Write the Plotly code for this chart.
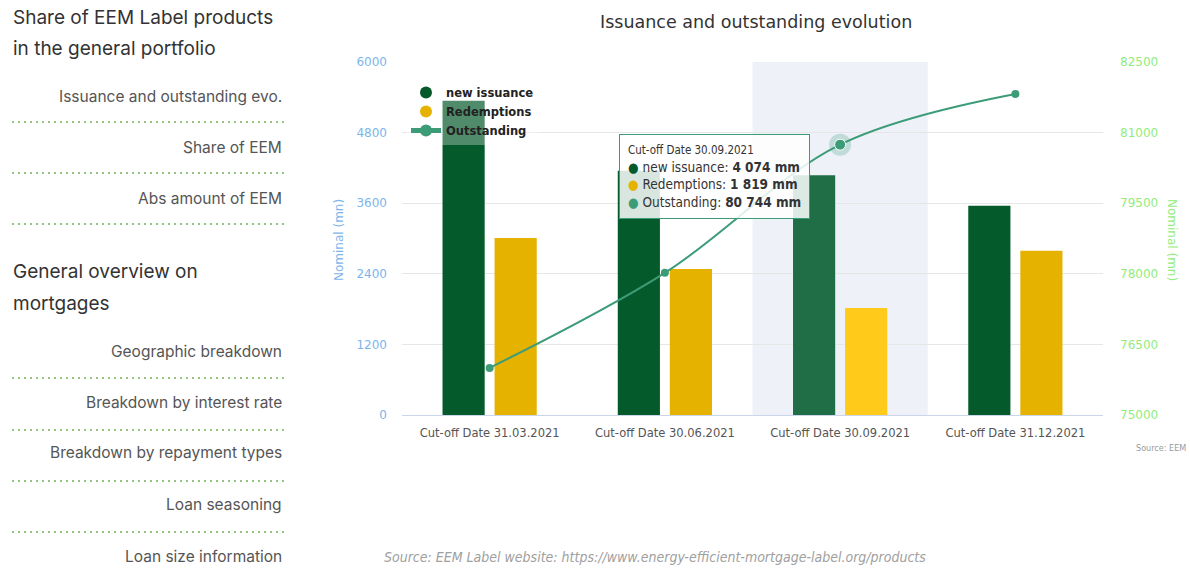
import plotly.graph_objects as go

# ---- data ----
categories = ["Cut-off Date 31.03.2021", "Cut-off Date 30.06.2021",
              "Cut-off Date 30.09.2021", "Cut-off Date 31.12.2021"]
new_issuance = [5340, 4150, 4074, 3555]
redemptions = [3010, 2480, 1819, 2790]
outstanding = [76000, 78020, 80744, 81820]
hover_index = 2

left_ticks = [0, 1200, 2400, 3600, 4800, 6000]
right_ticks = [75000, 76500, 78000, 79500, 81000, 82500]

menu_items_1 = ["Issuance and outstanding evo.", "Share of EEM", "Abs amount of EEM"]
menu_items_2 = ["Geographic breakdown", "Breakdown by interest rate",
                "Breakdown by repayment types", "Loan seasoning", "Loan size information"]

# ---- styling ----
GREEN = "#055a2b"
GREEN_HI = "#1f6e46"
YELLOW = "#e5b200"
YELLOW_HI = "#ffca1a"
LINE = "#3d9c78"
BLUE_LBL = "#7cb5ec"
GREEN_LBL = "#90ed7d"

FIG_W, FIG_H = 1190, 570
L, R, T, B = 402, 87, 62, 155
PW, PH = FIG_W - L - R, FIG_H - T - B


def px(x):
    return (x - L) / PW


def py(y):
    return (FIG_H - B - y) / PH


def fmt(v):
    return f"{v:,}".replace(",", " ")


fig = go.Figure()

issue_colors = [GREEN_HI if i == hover_index else GREEN for i in range(len(categories))]
red_colors = [YELLOW_HI if i == hover_index else YELLOW for i in range(len(categories))]

fig.add_trace(go.Bar(x=categories, y=new_issuance, name="new issuance",
                     marker=dict(color=issue_colors, line=dict(width=0)),
                     showlegend=False, offsetgroup="a"))
fig.add_trace(go.Bar(x=categories, y=redemptions, name="Redemptions",
                     marker=dict(color=red_colors, line=dict(width=0)),
                     showlegend=False, offsetgroup="b"))

# legend entries drawn as round symbols
fig.add_trace(go.Scatter(x=[None], y=[None], mode="markers", name="new issuance",
                         marker=dict(color=GREEN, size=14)))
fig.add_trace(go.Scatter(x=[None], y=[None], mode="markers", name="Redemptions",
                         marker=dict(color=YELLOW, size=14)))

fig.add_trace(go.Scatter(x=categories, y=outstanding, name="Outstanding", yaxis="y2",
                         mode="lines+markers", line=dict(color=LINE, width=2, shape="spline"),
                         marker=dict(color=LINE, size=8)))

# hovered point halo
fig.add_trace(go.Scatter(x=[categories[hover_index]], y=[outstanding[hover_index]], yaxis="y2",
                         mode="markers", showlegend=False,
                         marker=dict(color="rgba(61,156,120,0.25)", size=22)))
fig.add_trace(go.Scatter(x=[categories[hover_index]], y=[outstanding[hover_index]], yaxis="y2",
                         mode="markers", showlegend=False,
                         marker=dict(color=LINE, size=11, line=dict(color="white", width=1))))

shapes = []
# hover band behind the selected category
shapes.append(dict(type="rect", xref="x", yref="paper", x0=hover_index - 0.5, x1=hover_index + 0.5,
                   y0=0, y1=1, fillcolor="#eef2f8", line=dict(width=0), layer="below"))

annotations = []
# chart title
annotations.append(dict(text="Issuance and outstanding evolution", xref="paper", yref="paper",
                        x=px(756), y=py(22), xanchor="center", yanchor="middle", showarrow=False,
                        font=dict(family="DejaVu Sans", size=17.5, color="#333333")))
# axis titles
annotations.append(dict(text="Nominal (mn)", xref="paper", yref="paper", x=px(339), y=py(240),
                        textangle=-90, xanchor="center", yanchor="middle", showarrow=False,
                        font=dict(family="DejaVu Sans", size=12, color=BLUE_LBL)))
annotations.append(dict(text="Nominal (mn)", xref="paper", yref="paper", x=px(1172), y=py(240),
                        textangle=90, xanchor="center", yanchor="middle", showarrow=False,
                        font=dict(family="DejaVu Sans", size=12, color=GREEN_LBL)))
# chart credit
annotations.append(dict(text="Source: EEM", xref="paper", yref="paper", x=px(1188), y=py(448),
                        xanchor="right", yanchor="middle", showarrow=False,
                        font=dict(family="DejaVu Sans Condensed", size=9, color="#999999")))
# page source line
annotations.append(dict(text="<i>Source: EEM Label website: https://www.energy-efficient-mortgage-label.org/products</i>",
                        xref="paper", yref="paper", x=px(655), y=py(557), xanchor="center",
                        yanchor="middle", showarrow=False,
                        font=dict(family="DejaVu Sans Condensed", size=14, color="#a0a0a0")))

# tooltip for the hovered category
tip = (f"<span style='font-size:11.5px'>{categories[hover_index]}</span><br>"
       f"<span style='color:{GREEN}'>●</span> new issuance: <b>{fmt(new_issuance[hover_index])} mm</b><br>"
       f"<span style='color:{YELLOW}'>●</span> Redemptions: <b>{fmt(redemptions[hover_index])} mm</b><br>"
       f"<span style='color:{LINE}'>●</span> Outstanding: <b>{fmt(outstanding[hover_index])} mm</b>")
annotations.append(dict(text=tip, xref="paper", yref="paper", x=px(619), y=py(134),
                        xanchor="left", yanchor="top", align="left", showarrow=False,
                        bgcolor="rgba(255,255,255,0.85)", bordercolor=LINE, borderwidth=1,
                        borderpad=8,
                        font=dict(family="DejaVu Sans Condensed", size=13.5, color="#333333")))

# side navigation panel
HEAD_FONT = dict(family="Inter", size=19, color="#333333")
ITEM_FONT = dict(family="Inter", size=15.5, color="#555555")
for text, y in [("Share of EEM Label products", 17), ("in the general portfolio", 49),
                ("General overview on", 271), ("mortgages", 303)]:
    annotations.append(dict(text=text, xref="paper", yref="paper", x=px(11), y=py(y),
                            xanchor="left", yanchor="middle", showarrow=False, font=HEAD_FONT))

item_rows_1 = [96, 147, 198]
item_rows_2 = [351, 402, 453, 504, 556]
for text, y in zip(menu_items_1 + menu_items_2, item_rows_1 + item_rows_2):
    annotations.append(dict(text=text, xref="paper", yref="paper", x=px(284), y=py(y),
                            xanchor="right", yanchor="middle", showarrow=False, font=ITEM_FONT))

for y in [122, 173, 224, 378, 430, 481, 532]:
    shapes.append(dict(type="line", xref="paper", yref="paper", x0=px(12), x1=px(284),
                       y0=py(y), y1=py(y), line=dict(color="#6db35a", width=1.5, dash="2px,4px")))

fig.update_layout(
    width=FIG_W, height=FIG_H,
    margin=dict(l=L, r=R, t=T, b=B, pad=0),
    paper_bgcolor="white", plot_bgcolor="white",
    barmode="group", bargap=0.406, bargroupgap=0.19,
    showlegend=True,
    legend=dict(x=px(406), y=py(78), xanchor="left", yanchor="top",
                bgcolor="rgba(255,255,255,0.3)", borderwidth=0,
                font=dict(family="DejaVu Sans", size=11.5, color="#222222", weight="bold"),
                itemsizing="constant", itemwidth=30, tracegroupgap=0),
    xaxis=dict(type="category", categoryorder="array", categoryarray=categories,
               showgrid=False, showline=True, linecolor="#ccd6eb", linewidth=1,
               ticks="", tickfont=dict(family="DejaVu Sans Condensed", size=12.8, color="#555555"),
               ticklabelstandoff=6, range=[-0.5, len(categories) - 0.5], fixedrange=True),
    yaxis=dict(range=[0, 6000], tickvals=left_ticks, ticktext=[str(v) for v in left_ticks],
               showgrid=True, gridcolor="#e6e6e6",
               gridwidth=1, zeroline=False, showline=False,
               tickfont=dict(family="DejaVu Sans", size=12, color=BLUE_LBL),
               ticklabelstandoff=14),
    yaxis2=dict(range=[75000, 82500], tickvals=right_ticks, ticktext=[str(v) for v in right_ticks],
                overlaying="y", side="right",
                showgrid=False, zeroline=False, showline=False,
                tickfont=dict(family="DejaVu Sans", size=12, color=GREEN_LBL),
                ticklabelstandoff=16),
    shapes=shapes,
    annotations=annotations,
    hovermode=False,
)

fig.write_html("out.html")
